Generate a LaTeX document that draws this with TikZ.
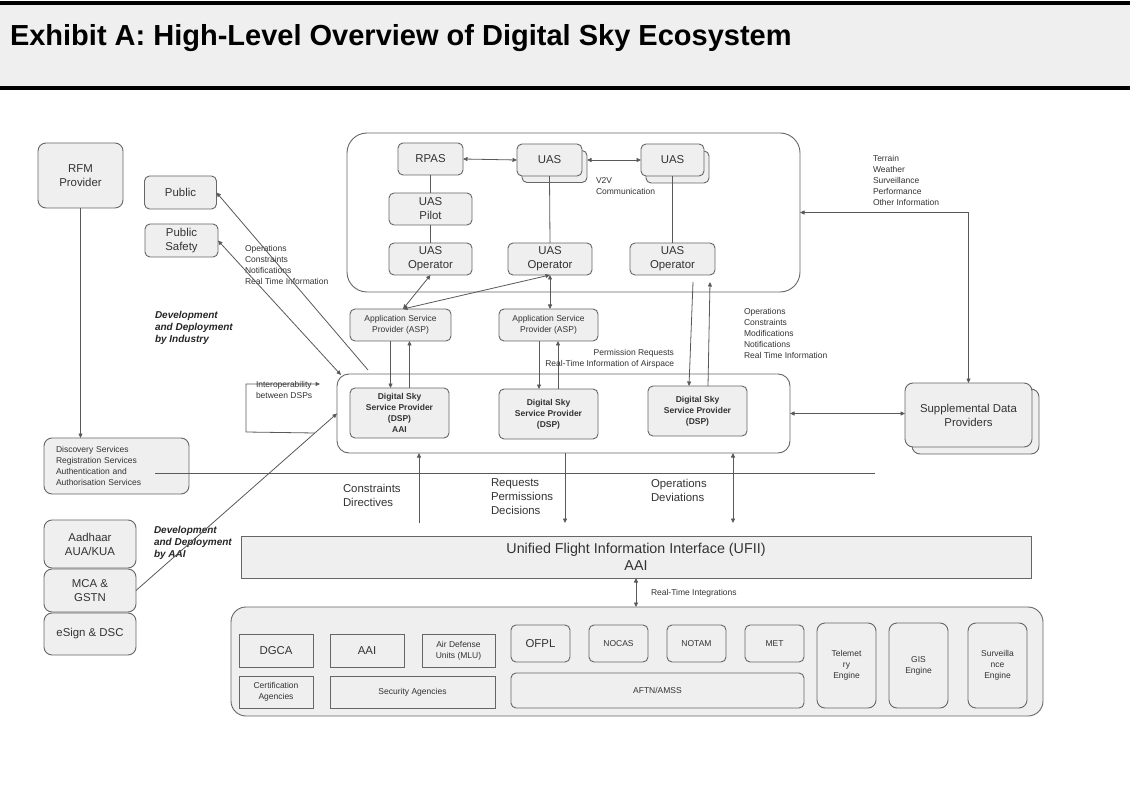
\documentclass[tikz,border=0pt]{standalone}
\usepackage{fontspec}
\setmainfont{Liberation Sans}
\usetikzlibrary{arrows.meta}
\definecolor{boxfill}{HTML}{EFEFEF}
\definecolor{edgec}{HTML}{666666}
\definecolor{inkc}{HTML}{333333}
\definecolor{wirec}{HTML}{595959}
\begin{document}
\begin{tikzpicture}[x=1pt,y=-1pt,
  every node/.style={inner sep=0pt, outer sep=0pt, text=inkc},
  sz/.style 2 args={minimum width=#1pt, minimum height=#2pt},
  box/.style={draw=edgec, fill=boxfill, line width=0.9pt, rounded corners=5pt, align=center},
  rbox/.style={draw=edgec, fill=boxfill, line width=0.9pt, align=center},
  cont/.style={draw=edgec, fill=white, line width=0.9pt},
  fS/.style={font=\fontsize{8.5}{11}\selectfont},
  fM/.style={font=\fontsize{11.4}{14}\selectfont},
  fB/.style={font=\bfseries\fontsize{8.5}{10.9}\selectfont},
  dev/.style={font=\bfseries\itshape\fontsize{10}{12.3}\selectfont, text=black!85, align=left, anchor=west},
  lbl/.style={fS, align=left, anchor=west},
  wire/.style={draw=wirec, line width=0.8pt},
  arr/.style={wire, -{Triangle[length=4.5pt,width=4pt]}},
  arrb/.style={wire, {Triangle[length=4.5pt,width=4pt]}-{Triangle[length=4.5pt,width=4pt]}},
]
\useasboundingbox (0,0) rectangle (1130,786);
\fill[white] (0,0) rectangle (1130,786);
% title bar
\fill[boxfill] (0,3) rectangle (1130,88);
\fill[black] (0,1) rectangle (1130,5);
\fill[black] (0,86) rectangle (1130,90);
\node[anchor=west, font=\bfseries\fontsize{29}{34}\selectfont, text=black] (title) at (10,38) {Exhibit A: High-Level Overview of Digital Sky Ecosystem};

% left column
\node[box, fM, rounded corners=8pt, sz={85}{65}] (rfm) at (80.5,175.5) {RFM\\Provider};
\node[box, fM, sz={72}{33}] (pub) at (180.5,192.5) {Public};
\node[box, fM, sz={73}{33}] (pubs) at (181.5,240.5) {Public\\Safety};
\node[lbl] (opsl) at (245,265) {Operations\\Constraints\\Notifications\\Real Time Information};
\node[dev] (devind) at (155,328) {Development\\and Deployment\\by Industry};

% UAS container
\node[cont, rounded corners=20pt, sz={453}{159}] (uasc) at (573.5,212.5) {};
\node[box, fM, sz={65}{32}] (rpas) at (430.5,159) {RPAS};
\node[box, sz={65}{32}] (uas1b) at (554.5,166.5) {};
\node[box, fM, sz={65}{32}] (uas1) at (549.5,160) {UAS};
\node[box, sz={63}{32}] (uas2b) at (677.5,167) {};
\node[box, fM, sz={63}{32}] (uas2) at (672.5,160) {UAS};
\node[box, fM, sz={83}{32}] (pilot) at (430.5,209) {UAS\\Pilot};
\node[box, fM, sz={83}{32}] (op1) at (430.5,259) {UAS\\Operator};
\node[box, fM, sz={84}{32}] (op2) at (550,259) {UAS\\Operator};
\node[box, fM, sz={85}{32}] (op3) at (672.5,259) {UAS\\Operator};
\node[lbl] (v2v) at (596,186.5) {V2V\\Communication};

\draw[wire] (rpas.south) -- (pilot.north);
\draw[wire] (pilot.south) -- (op1.north);
\draw[wire] (uas1.south) -- (op2.north);
\draw[wire] (uas2.south) -- (op3.north);
\draw[arrb] (rpas.east) -- (uas1.west);
\draw[arrb] (uas1b.east |- uas2.west) -- (uas2.west);

% ASPs and DSP band
\node[box, fS, sz={101}{32}] (asp1) at (400.5,325) {Application Service\\Provider (ASP)};
\node[box, fS, sz={99}{32}] (asp2) at (548.5,325) {Application Service\\Provider (ASP)};
\node[cont, rounded corners=12pt, sz={453}{79}] (band) at (563.5,413.5) {};
\node[box, fB, sz={99}{50}] (dsp1) at (399.5,413) {Digital Sky\\Service Provider\\(DSP)\\AAI};
\node[box, fB, sz={99}{50}] (dsp2) at (548.5,414) {Digital Sky\\Service Provider\\(DSP)};
\node[box, fB, sz={99}{50}] (dsp3) at (697.5,411) {Digital Sky\\Service Provider\\(DSP)};

\draw[arrb] ([xshift=2.5pt]asp1.north) -- (op1.south);
\draw[arrb] ([xshift=2.5pt]asp1.north) -- (op2.south);
\draw[arrb] (op2.south) -- (op2.south |- asp2.north);
\draw[arr] ([xshift=-10pt]asp1.south) -- ([xshift=-10pt]asp1.south |- dsp1.north);
\draw[arr] ([xshift=9pt]asp1.south |- dsp1.north) -- ([xshift=9pt]asp1.south);
\draw[arr] ([xshift=-9.5pt]asp2.south) -- ([xshift=-9.5pt]asp2.south |- dsp2.north);
\draw[arr] ([xshift=9.5pt]asp2.south |- dsp2.north) -- ([xshift=9.5pt]asp2.south);
\draw[arr] ([xshift=20.5pt,yshift=-7pt]op3.south) -- ([xshift=-8.5pt]dsp3.north);
\draw[arr] ([xshift=10.5pt]dsp3.north) -- ([xshift=37.5pt,yshift=-7pt]op3.south);

\node[fS, align=right, anchor=east] (perm) at (674,358.5) {Permission Requests\\Real-Time Information of Airspace};
\node[lbl] (opsr) at (744,333.5) {Operations\\Constraints\\Modifications\\Notifications\\Real Time Information};
\node[lbl] (terr) at (873,180) {Terrain\\Weather\\Surveillance\\Performance\\Other Information};

% supplemental data providers
\node[box, rounded corners=8pt, sz={127}{65}] (suppb) at (975.5,421.5) {};
\node[box, fM, rounded corners=8pt, sz={127}{64}] (supp) at (968.5,415) {Supplemental Data\\Providers};
\draw[arrb] (uasc.east) -| (supp.north);
\draw[arrb] (band.east) -- (band.east -| supp.west);

% public lines
\coordinate (pubend) at (368,370);
\coordinate (psend) at (341,375);
\draw[arr] (pubend) -- (pub.east);
\draw[arrb] (pubs.east) -- (psend);

% interoperability loop
\coordinate (iopa) at (315,433);
\coordinate (iopb) at (246,432);
\coordinate (iopc) at (246,384);
\coordinate (iopd) at (320,384);
\draw[arr] (iopa) -- (iopb) -- (iopc) -- (iopd);
\node[lbl] (iop) at (256,390) {Interoperability\\between DSPs};

% discovery services
\node[box, fS, rounded corners=8pt, text width=121pt, inner xsep=12pt, minimum height=56pt, align=left] (disc) at (116.5,466) {Discovery Services\\Registration Services\\Authentication and\\Authorisation Services};
\draw[arr] (rfm.south) -- (rfm.south |- disc.north);
\coordinate (hla) at (155,473);
\coordinate (hlb) at (875,473);
\draw[wire] (hla) -- (hlb);

% identity boxes
\node[box, fM, rounded corners=8pt, sz={92}{48}] (aadh) at (90,544) {Aadhaar\\AUA/KUA};
\node[box, fM, rounded corners=8pt, sz={92}{43}] (mca) at (90,590.5) {MCA \&\\GSTN};
\node[box, fM, rounded corners=8pt, sz={92}{42}] (esign) at (90,634) {eSign \& DSC};
\node[dev] (devaai) at (154,543) {Development\\and Deployment\\by AAI};
\draw[arr] (mca.east) -- (band.west);

% DSP <-> UFII flows
\node[fM, align=left, anchor=west] (cdl) at (343,495.5) {Constraints\\Directives};
\node[fM, align=left, anchor=west] (rpl) at (491,497) {Requests\\Permissions\\Decisions};
\node[fM, align=left, anchor=west] (odl) at (651,490) {Operations\\Deviations};
\coordinate (ca) at (419,523);
\coordinate (rd) at (565,523);
\coordinate (od) at (733,523);
\draw[arr] (ca) -- (ca |- band.south);
\draw[arr] (rd |- band.south) -- (rd);
\draw[arrb] (od |- band.south) -- (od);

% UFII
\node[rbox, font=\fontsize{14.3}{17.3}\selectfont, sz={790}{42}] (ufii) at (636,557) {Unified Flight Information Interface (UFII)\\AAI};
\coordinate (rt) at (636,607);
\draw[arrb] (ufii.south -| rt) -- (rt);
\node[lbl] (rtl) at (651,593) {Real-Time Integrations};

% bottom container
\node[box, rounded corners=15pt, sz={812}{109}] (bot) at (637,661.5) {};
\node[rbox, fM, sz={74}{33}] (dgca) at (276,650.5) {DGCA};
\node[rbox, fM, sz={74}{33}] (aai) at (367,650.5) {AAI};
\node[rbox, fS, sz={73}{33}] (adu) at (458.5,650.5) {Air Defense\\Units (MLU)};
\node[rbox, fS, sz={74}{32}] (cert) at (276,692) {Certification\\Agencies};
\node[rbox, fS, sz={165}{32}] (sec) at (412.5,692) {Security Agencies};
\node[box, fM, sz={59}{37}] (ofpl) at (540.5,643.5) {OFPL};
\node[box, fS, sz={59}{37}] (nocas) at (618.5,643.5) {NOCAS};
\node[box, fS, sz={59}{37}] (notam) at (696.5,643.5) {NOTAM};
\node[box, fS, sz={59}{37}] (met) at (774.5,643.5) {MET};
\node[box, fS, sz={293}{35}] (aftn) at (657.5,690.5) {AFTN/AMSS};
\node[box, fS, rounded corners=8pt, sz={59}{85}] (tele) at (846.5,665.5) {Telemet\\ry\\Engine};
\node[box, fS, rounded corners=8pt, sz={59}{85}] (gis) at (918.5,665.5) {GIS\\Engine};
\node[box, fS, rounded corners=8pt, sz={59}{85}] (surv) at (997.5,665.5) {Surveilla\\nce\\Engine};
\end{tikzpicture}
\end{document}
